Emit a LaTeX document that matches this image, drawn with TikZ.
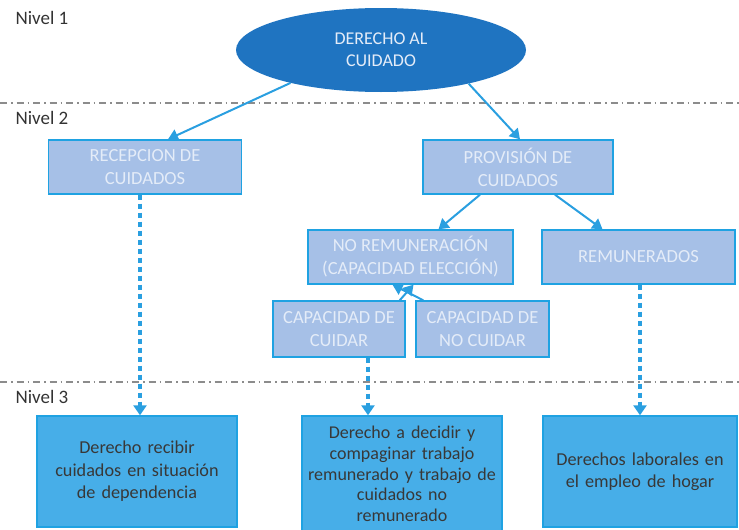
\documentclass[tikz,border=0pt]{standalone}
\usepackage{fontspec}
\setmainfont{Carlito}
\usetikzlibrary{shapes.geometric,arrows.meta}

\definecolor{azulosc}{HTML}{1F74C1}
\definecolor{azulcl}{HTML}{A6C0E7}
\definecolor{celeste}{HTML}{47AEE8}
\definecolor{borde}{HTML}{1FA2E2}
\definecolor{flecha}{HTML}{2A9FE0}
\definecolor{textocl}{HTML}{E4ECF8}

\begin{document}
\begin{tikzpicture}[x=1pt,y=-1pt,
    nivel/.style={anchor=west,text=black!80,font=\fontsize{19}{22}\selectfont},
    cajacl/.style={draw=borde,line width=1.4pt,fill=azulcl,text=textocl,align=center,
        inner sep=0pt,minimum height=54pt,font=\fontsize{18.5}{23}\selectfont},
    cajaosc/.style={draw=borde,line width=1.4pt,fill=celeste,text=black!78,align=center,
        inner sep=0pt,minimum height=111pt,text width=194pt,font=\fontsize{18.2}{22.5}\selectfont},
    flechita/.style={flecha,line width=2pt,-{Triangle[width=12pt,length=10pt]}},
    punteo/.style={flecha,line width=3.2pt,dash pattern=on 5pt off 4pt,-{Triangle[width=13pt,length=10pt]}},
    linea/.style={black!45,line width=1.5pt,dash pattern=on 7pt off 4pt on 1.5pt off 4pt}]
    \useasboundingbox (0,0) rectangle (739,530);

    % Niveles y lineas de corte
    \node[nivel] (n1) at (12,18) {Nivel 1};
    \node[nivel] (n2) at (12,118) {Nivel 2};
    \node[nivel] (n3) at (12,397) {Nivel 3};
    \draw[linea] (0,103) -- (739,103);
    \draw[linea] (0,382) -- (739,382);

    % Nivel 1
    \node[ellipse,fill=azulosc,text=textocl,minimum width=290pt,minimum height=84pt,inner sep=0pt,
        align=center,font=\fontsize{18}{22}\selectfont] (der) at (381,50) {DERECHO AL\\CUIDADO};

    % Nivel 2
    \node[cajacl,minimum width=193pt] (rec) at (145,167) {RECEPCION DE\\CUIDADOS};
    \node[cajacl,minimum width=190pt] (prov) at (518,167) {PROVISIÓN DE\\CUIDADOS};
    \node[cajacl,minimum width=205pt] (norem) at (410.5,257) {NO REMUNERACIÓN\\(CAPACIDAD ELECCIÓN)};
    \node[cajacl,minimum width=193pt] (rem) at (638.5,257) {REMUNERADOS};
    \node[cajacl,minimum width=132pt,minimum height=56pt] (cuidar) at (339,329) {CAPACIDAD DE\\CUIDAR};
    \node[cajacl,minimum width=133pt,minimum height=56pt] (nocuidar) at (482.5,329) {CAPACIDAD DE\\NO CUIDAR};

    % Nivel 3
    \node[cajaosc,minimum width=200pt] (recibir) at (137,471.5) {Derecho recibir\\cuidados en situación\\de dependencia};
    \node[cajaosc,minimum width=200pt,minimum height=116pt,font=\fontsize{18}{20.8}\selectfont] (decidir) at (402,474)
        {Derecho a decidir y\\compaginar trabajo\\remunerado y trabajo de\\cuidados no\\remunerado};
    \node[cajaosc,minimum width=194pt] (hogar) at (640,471.5) {Derechos laborales en\\el empleo de hogar};

    % Flechas
    \draw[flechita] (der.200) -- ([xshift=23]rec.north);
    \draw[flechita] (der.-21) -- ([xshift=2]prov.north);
    \draw[flechita] ([xshift=-38]prov.south) -- ([xshift=28]norem.north);
    \draw[flechita] ([xshift=37]prov.south) -- ([xshift=-36]rem.north);
    \draw[flechita] ([xshift=-6]cuidar.north east) -- ([xshift=3]norem.south);
    \draw[flechita] ([xshift=8]nocuidar.north west) -- ([xshift=-18]norem.south);
    \draw[punteo] ([xshift=-5]rec.south) -- ([xshift=3]recibir.north);
    \draw[punteo] ([xshift=29]cuidar.south) -- ([xshift=-34]decidir.north);
    \draw[punteo] ([xshift=1.5]rem.south) -- (hogar.north);
\end{tikzpicture}
\end{document}
